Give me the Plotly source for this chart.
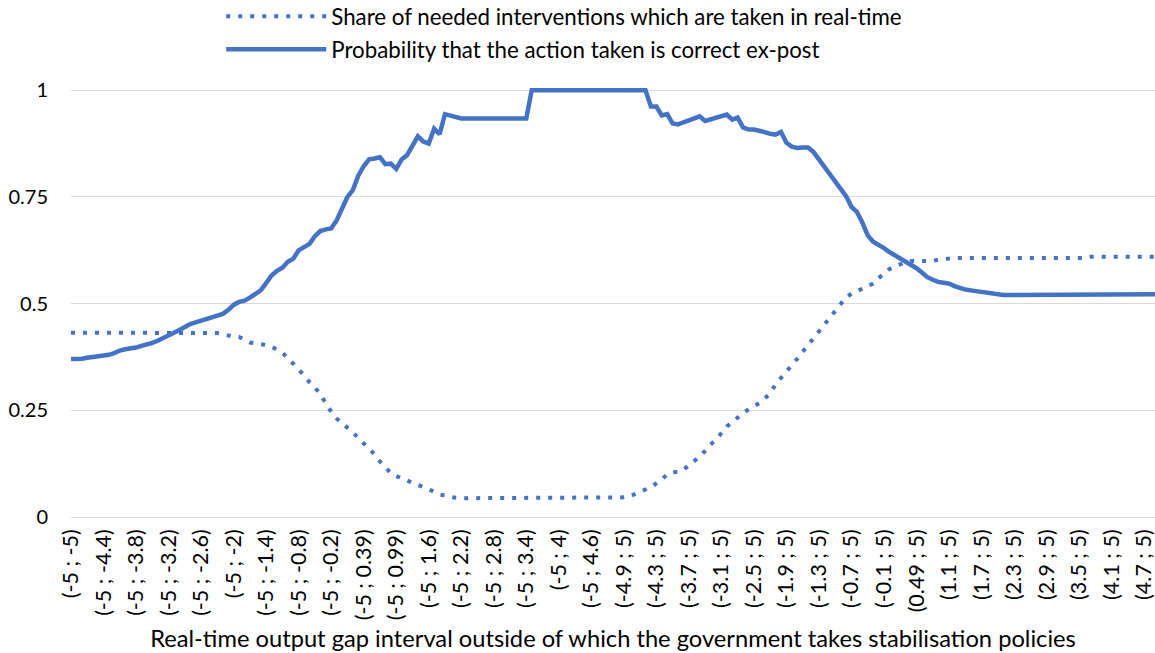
import plotly.graph_objects as go

# upper bound of the interval while the lower bound is held at -5
UPPER_FIRST = [
    "-5", "-4.9", "-4.8", "-4.7", "-4.6", "-4.5", "-4.4", "-4.3", "-4.2", "-4.1",
    "-4", "-3.9", "-3.8", "-3.7", "-3.6", "-3.5", "-3.4", "-3.3", "-3.2", "-3.1",
    "-3", "-2.9", "-2.8", "-2.7", "-2.6", "-2.5", "-2.4", "-2.3", "-2.2", "-2.1",
    "-2", "-1.9", "-1.8", "-1.7", "-1.6", "-1.5", "-1.4", "-1.3", "-1.2", "-1.1",
    "-1", "-0.9", "-0.8", "-0.7", "-0.6", "-0.5", "-0.4", "-0.3", "-0.2", "-0.1",
    "0", "0.09", "0.19", "0.29", "0.39", "0.49", "0.59", "0.69", "0.79", "0.89",
    "0.99", "1.1", "1.2", "1.3", "1.4", "1.5", "1.6", "1.7", "1.8", "1.9",
    "2", "2.1", "2.2", "2.3", "2.4", "2.5", "2.6", "2.7", "2.8", "2.9",
    "3", "3.1", "3.2", "3.3", "3.4", "3.5", "3.6", "3.7", "3.8", "3.9",
    "4", "4.1", "4.2", "4.3", "4.4", "4.5", "4.6", "4.7", "4.8", "4.9",
    "4.99",
]

# lower bound of the interval while the upper bound is held at 5
LOWER_SECOND = [
    "-5", "-4.9", "-4.8", "-4.7", "-4.6", "-4.5", "-4.4", "-4.3", "-4.2", "-4.1",
    "-4", "-3.9", "-3.8", "-3.7", "-3.6", "-3.5", "-3.4", "-3.3", "-3.2", "-3.1",
    "-3", "-2.9", "-2.8", "-2.7", "-2.6", "-2.5", "-2.4", "-2.3", "-2.2", "-2.1",
    "-2", "-1.9", "-1.8", "-1.7", "-1.6", "-1.5", "-1.4", "-1.3", "-1.2", "-1.1",
    "-1", "-0.9", "-0.8", "-0.7", "-0.6", "-0.5", "-0.4", "-0.3", "-0.2", "-0.1",
    "0", "0.09", "0.19", "0.29", "0.39", "0.49", "0.59", "0.69", "0.79", "0.89",
    "0.99", "1.1", "1.2", "1.3", "1.4", "1.5", "1.6", "1.7", "1.8", "1.9",
    "2", "2.1", "2.2", "2.3", "2.4", "2.5", "2.6", "2.7", "2.8", "2.9",
    "3", "3.1", "3.2", "3.3", "3.4", "3.5", "3.6", "3.7", "3.8", "3.9",
    "4", "4.1", "4.2", "4.3", "4.4", "4.5", "4.6", "4.7", "4.8", "4.9",
]

CATEGORIES = [f"(-5 ; {u})" for u in UPPER_FIRST] + [f"({l} ; 5)" for l in LOWER_SECOND]

TICK_LABELS = [
    "(-5 ; -5)", "(-5 ; -4.4)", "(-5 ; -3.8)", "(-5 ; -3.2)", "(-5 ; -2.6)", "(-5 ; -2)",
    "(-5 ; -1.4)", "(-5 ; -0.8)", "(-5 ; -0.2)", "(-5 ; 0.39)", "(-5 ; 0.99)", "(-5 ; 1.6)",
    "(-5 ; 2.2)", "(-5 ; 2.8)", "(-5 ; 3.4)", "(-5 ; 4)", "(-5 ; 4.6)",
    "(-4.9 ; 5)", "(-4.3 ; 5)", "(-3.7 ; 5)", "(-3.1 ; 5)", "(-2.5 ; 5)", "(-1.9 ; 5)",
    "(-1.3 ; 5)", "(-0.7 ; 5)", "(-0.1 ; 5)", "(0.49 ; 5)", "(1.1 ; 5)", "(1.7 ; 5)",
    "(2.3 ; 5)", "(2.9 ; 5)", "(3.5 ; 5)", "(4.1 ; 5)", "(4.7 ; 5)",
]

SHARE_TAKEN = [
    0.432, 0.432, 0.432, 0.432, 0.432, 0.432, 0.432, 0.432, 0.432, 0.432,
    0.432, 0.432, 0.432, 0.432, 0.432, 0.432, 0.432, 0.432, 0.432, 0.432,
    0.432, 0.432, 0.432, 0.432, 0.432, 0.432, 0.432, 0.431, 0.428, 0.425,
    0.423, 0.422, 0.416, 0.409, 0.407, 0.406, 0.403, 0.399, 0.393, 0.385,
    0.373, 0.360, 0.347, 0.332, 0.316, 0.304, 0.287, 0.266, 0.247, 0.231,
    0.221, 0.209, 0.198, 0.185, 0.171, 0.160, 0.147, 0.130, 0.117, 0.103,
    0.096, 0.091, 0.086, 0.081, 0.077, 0.071, 0.065, 0.059, 0.053, 0.050,
    0.047, 0.045, 0.044, 0.044, 0.044, 0.044, 0.044, 0.044, 0.044, 0.044,
    0.044, 0.044, 0.044, 0.044, 0.044, 0.044, 0.044, 0.044, 0.044, 0.044,
    0.044, 0.044, 0.044, 0.044, 0.044, 0.044, 0.044, 0.044, 0.044, 0.044,
    0.044, 0.044, 0.046, 0.048, 0.054, 0.060, 0.065, 0.070, 0.079, 0.088,
    0.100, 0.105, 0.106, 0.110, 0.122, 0.132, 0.141, 0.155, 0.170, 0.181,
    0.198, 0.212, 0.222, 0.234, 0.244, 0.252, 0.260, 0.267, 0.278, 0.289,
    0.311, 0.327, 0.342, 0.356, 0.371, 0.387, 0.404, 0.422, 0.438, 0.452,
    0.467, 0.484, 0.502, 0.515, 0.523, 0.529, 0.534, 0.541, 0.547, 0.560,
    0.572, 0.581, 0.587, 0.593, 0.597, 0.600, 0.600, 0.600, 0.600, 0.600,
    0.603, 0.605, 0.607, 0.607, 0.607, 0.607, 0.607, 0.607, 0.607, 0.607,
    0.607, 0.607, 0.607, 0.607, 0.607, 0.607, 0.607, 0.607, 0.607, 0.607,
    0.607, 0.607, 0.607, 0.607, 0.607, 0.607, 0.607, 0.607, 0.610, 0.610,
    0.610, 0.610, 0.610, 0.610, 0.610, 0.610, 0.610, 0.610, 0.610, 0.610,
    0.610,
]

PROB_CORRECT = [
    0.370, 0.370, 0.371, 0.373, 0.375, 0.376, 0.377, 0.380, 0.384, 0.390,
    0.393, 0.394, 0.397, 0.401, 0.404, 0.408, 0.413, 0.420, 0.426, 0.432,
    0.438, 0.446, 0.452, 0.456, 0.460, 0.465, 0.468, 0.471, 0.476, 0.485,
    0.497, 0.504, 0.507, 0.514, 0.522, 0.531, 0.548, 0.566, 0.577, 0.584,
    0.598, 0.605, 0.625, 0.632, 0.640, 0.658, 0.670, 0.674, 0.676, 0.695,
    0.722, 0.750, 0.766, 0.800, 0.822, 0.838, 0.840, 0.843, 0.827, 0.828,
    0.816, 0.838, 0.848, 0.870, 0.892, 0.880, 0.875, 0.910, 0.897, 0.944,
    0.940, 0.938, 0.934, 0.934, 0.934, 0.934, 0.934, 0.934, 0.934, 0.934,
    0.934, 0.934, 0.934, 0.934, 0.934, 1.000, 1.000, 1.000, 1.000, 1.000,
    1.000, 1.000, 1.000, 1.000, 1.000, 1.000, 1.000, 1.000, 1.000, 1.000,
    1.000, 1.000, 1.000, 1.000, 1.000, 1.000, 1.000, 0.962, 0.962, 0.941,
    0.944, 0.922, 0.920, 0.925, 0.929, 0.934, 0.939, 0.928, 0.932, 0.935,
    0.940, 0.943, 0.931, 0.936, 0.913, 0.908, 0.908, 0.906, 0.902, 0.898,
    0.896, 0.902, 0.877, 0.868, 0.865, 0.866, 0.866, 0.855, 0.838, 0.818,
    0.803, 0.787, 0.770, 0.752, 0.727, 0.715, 0.690, 0.660, 0.645, 0.638,
    0.630, 0.621, 0.614, 0.607, 0.598, 0.591, 0.583, 0.573, 0.562, 0.556,
    0.551, 0.549, 0.547, 0.541, 0.536, 0.533, 0.531, 0.529, 0.526, 0.524,
    0.522, 0.520, 0.520, 0.520, 0.520, 0.520, 0.520, 0.520, 0.520, 0.520,
    0.520, 0.520, 0.520, 0.520, 0.520, 0.522, 0.522, 0.522, 0.522, 0.522,
    0.522, 0.522, 0.522, 0.522, 0.522, 0.522, 0.522, 0.522, 0.522, 0.522,
    0.522,
]

BLUE = "#4472C4"
GRID = "#D9D9D9"
FONT = "Lato"

fig = go.Figure()
fig.add_trace(go.Scatter(
    x=CATEGORIES, y=SHARE_TAKEN, mode="lines",
    name="Share of needed interventions which are taken in real-time",
    line=dict(color=BLUE, width=4, dash="4px,8px"),
    legendgroup="a",
))
fig.add_trace(go.Scatter(
    x=CATEGORIES, y=PROB_CORRECT, mode="lines",
    name="Probability that the action taken is correct ex-post",
    line=dict(color=BLUE, width=4.5),
    legendgroup="b",
))

fig.update_layout(
    width=1155, height=653,
    margin=dict(l=71, r=0, t=86, b=136, autoexpand=False),
    paper_bgcolor="white", plot_bgcolor="white",
    font=dict(family=FONT, size=20, color="#000000"),
    showlegend=True,
    legend=dict(
        x=0.1386, y=1.2105, xanchor="left", yanchor="top",
        orientation="v", itemwidth=100, tracegroupgap=1,
        traceorder="grouped",
        font=dict(family=FONT, size=22.3, color="#000000"),
        bgcolor="rgba(0,0,0,0)",
    ),
    xaxis=dict(
        type="category", range=[0, len(CATEGORIES) - 1],
        tickmode="array", tickvals=TICK_LABELS, ticktext=TICK_LABELS,
        tickangle=-90, tickfont=dict(size=21.5), ticklabelstandoff=7,
        showgrid=False, showline=False, ticks="",
        title=dict(
            text="Real-time output gap interval outside of which the government takes stabilisation policies",
            font=dict(size=23.7), standoff=11,
        ),
        automargin=False,
    ),
    yaxis=dict(
        range=[0, 1.01], tickvals=[0, 0.25, 0.5, 0.75, 1],
        ticktext=["0", "0.25", "0.5", "0.75", "1"],
        showgrid=True, gridcolor=GRID, gridwidth=1.3,
        zeroline=True, zerolinecolor=GRID, zerolinewidth=1.3,
        showline=False, ticks="", ticklabelstandoff=22,
        tickfont=dict(size=20), automargin=False,
    ),
)

fig.write_html(
    "out.html",
    config={"displayModeBar": False},
    post_script="document.body.style.margin='0';document.body.style.overflow='hidden';",
)
